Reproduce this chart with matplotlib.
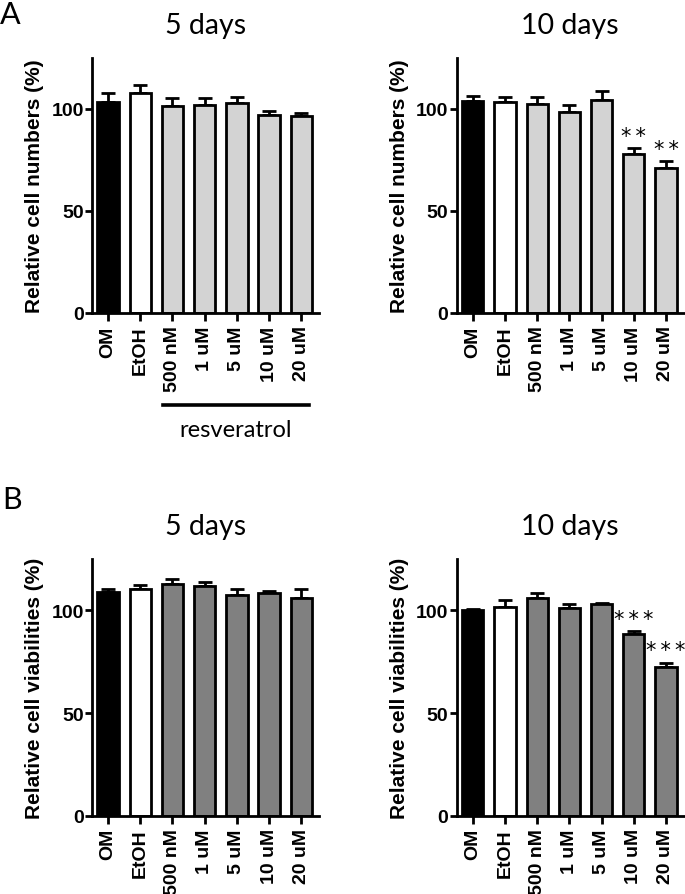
import matplotlib
matplotlib.use("Agg")
import matplotlib.pyplot as plt
import numpy as np

# ---- data ----
categories = ["OM", "EtOH", "500 nM", "1 uM", "5 uM", "10 uM", "20 uM"]

num_5d = [103.3, 107.8, 101.5, 102.0, 102.8, 97.2, 96.6]
num_5d_err = [4.4, 4.0, 3.7, 3.6, 3.1, 2.0, 1.3]
num_10d = [103.9, 103.3, 102.5, 98.5, 104.2, 77.9, 71.1]
num_10d_err = [2.3, 2.4, 3.4, 3.5, 4.5, 3.1, 3.2]
num_10d_sig = ["", "", "", "", "", "**", "**"]

via_5d = [109.1, 110.2, 112.7, 112.0, 107.6, 108.3, 105.9]
via_5d_err = [1.1, 2.1, 2.8, 1.6, 2.8, 1.3, 4.5]
via_10d = [100.2, 101.6, 105.9, 101.3, 103.1, 88.5, 72.5]
via_10d_err = [0.3, 3.6, 2.4, 1.6, 0.3, 1.5, 2.0]
via_10d_sig = ["", "", "", "", "", "***", "***"]

yticks = [0, 50, 100]
W, H = 685, 895
fig = plt.figure(figsize=(W / 100, H / 100), dpi=100)

TICKFONT = dict(family="Liberation Sans", weight="bold")
TITLEFONT = "Lato"
LW = 2.0


def axes_px(left, top, right, bottom):
    return fig.add_axes([left / W, 1 - bottom / H, (right - left) / W, (bottom - top) / H])


def panel(ax, vals, errs, treat_color, ylabel, title, sig=None, star_off=6.0, star_size=15):
    x = np.arange(len(vals))
    colors = ["black", "white"] + [treat_color] * (len(vals) - 2)
    ax.errorbar(x, vals, yerr=[np.zeros(len(vals)), errs], fmt="none", ecolor="black",
                elinewidth=LW, capsize=5, capthick=LW, zorder=1)
    ax.bar(x, vals, width=0.66, color=colors, edgecolor="black", linewidth=LW, zorder=2)
    ax.set_xlim(-0.5, 6.55)
    ax.set_ylim(0, 125)
    ax.set_yticks(yticks)
    ax.set_xticks(x)
    ax.set_xticklabels(categories, rotation=90, fontsize=14, **TICKFONT)
    ax.set_yticklabels([str(t) for t in yticks], fontsize=14, **TICKFONT)
    for s in ["top", "right"]:
        ax.spines[s].set_visible(False)
    for s in ["left", "bottom"]:
        ax.spines[s].set_linewidth(LW)
    ax.tick_params(axis="y", length=5, width=LW, pad=1)
    ax.tick_params(axis="x", length=6, width=LW, pad=3)
    ax.set_ylabel(ylabel, fontsize=15, labelpad=5, **TICKFONT)
    ax.set_title(title, fontsize=20.5, family=TITLEFONT, pad=18)
    if sig:
        for xi, v, e, s in zip(x, vals, errs, sig):
            if s:
                ax.text(xi, v + e + star_off, "\u2009".join(s), ha="center", va="center",
                        fontsize=star_size, family="DejaVu Sans")


ax1 = axes_px(92, 59, 319, 314)
ax2 = axes_px(456.7, 59, 683.7, 314)
ax3 = axes_px(92, 560, 319, 816.7)
ax4 = axes_px(456.7, 560, 683.7, 816.7)

light = "#d3d3d3"
dark = "#808080"
panel(ax1, num_5d, num_5d_err, light, "Relative cell numbers (%)", "5 days")
panel(ax2, num_10d, num_10d_err, light, "Relative cell numbers (%)", "10 days", num_10d_sig)
panel(ax3, via_5d, via_5d_err, dark, "Relative cell viabilities (%)", "5 days")
panel(ax4, via_10d, via_10d_err, dark, "Relative cell viabilities (%)", "10 days", via_10d_sig)

# resveratrol bracket
fig.add_artist(plt.Line2D([163 / W, 309 / W], [1 - 406 / H, 1 - 406 / H], color="black", lw=2.6))
fig.text(236 / W, 1 - 431 / H, "resveratrol", ha="center", va="center", fontsize=17, family=TITLEFONT)

fig.text(0 / W, 1 - 15 / H, "A", ha="left", va="center", fontsize=22, family=TITLEFONT)
fig.text(2 / W, 1 - 500 / H, "B", ha="left", va="center", fontsize=22, family=TITLEFONT)

fig.savefig("out.png", dpi=100)
